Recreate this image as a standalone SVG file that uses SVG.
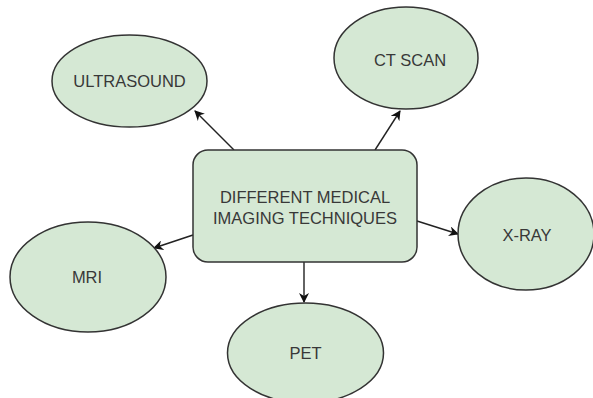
<svg xmlns="http://www.w3.org/2000/svg" width="593" height="398" viewBox="0 0 593 398">
  <style>
    .node { fill: #d5e8d4; stroke: #333333; stroke-width: 1.5; }
    .label { font-family: "Liberation Sans", Arial, sans-serif; font-size: 16.5px; fill: #383838; text-anchor: middle; dominant-baseline: central; }
    .edge { stroke: #222222; stroke-width: 1.4; fill: none; marker-end: url(#arrow); }
  </style>
  <defs>
    <marker id="arrow" viewBox="0 0 10 10" refX="9" refY="5" markerWidth="11" markerHeight="10" markerUnits="userSpaceOnUse" orient="auto">
      <path d="M0,0 L10,5 L0,10 L3,5 Z" fill="#111111"/>
    </marker>
  </defs>
  <rect width="593" height="398" fill="#ffffff"/>

  <g id="connectors">
    <line class="edge" x1="234" y1="150" x2="195" y2="111"/>
    <line class="edge" x1="375" y1="150" x2="400" y2="111"/>
    <line class="edge" x1="193" y1="235" x2="154" y2="248"/>
    <line class="edge" x1="304" y1="262" x2="304" y2="302"/>
    <line class="edge" x1="417" y1="221" x2="458" y2="234"/>
  </g>

  <g id="center">
    <rect class="node" x="193" y="150" width="224" height="112" rx="15" ry="15"/>
    <text class="label" x="305" y="197" font-size="17">DIFFERENT MEDICAL</text>
    <text class="label" x="305" y="218" font-size="17">IMAGING TECHNIQUES</text>
  </g>

  <g id="ultrasound">
    <ellipse class="node" cx="129.5" cy="81" rx="77.5" ry="46"/>
    <text class="label" x="129.5" y="81">ULTRASOUND</text>
  </g>

  <g id="ct-scan">
    <ellipse class="node" cx="406" cy="58" rx="72" ry="51"/>
    <text class="label" x="410" y="60">CT SCAN</text>
  </g>

  <g id="mri">
    <ellipse class="node" cx="88" cy="277" rx="78" ry="55"/>
    <text class="label" x="87" y="277">MRI</text>
  </g>

  <g id="pet">
    <ellipse class="node" cx="305.5" cy="353" rx="78" ry="50"/>
    <text class="label" x="305.5" y="353">PET</text>
  </g>

  <g id="x-ray">
    <ellipse class="node" cx="526" cy="234" rx="68" ry="56"/>
    <text class="label" x="527" y="235">X-RAY</text>
  </g>
</svg>
